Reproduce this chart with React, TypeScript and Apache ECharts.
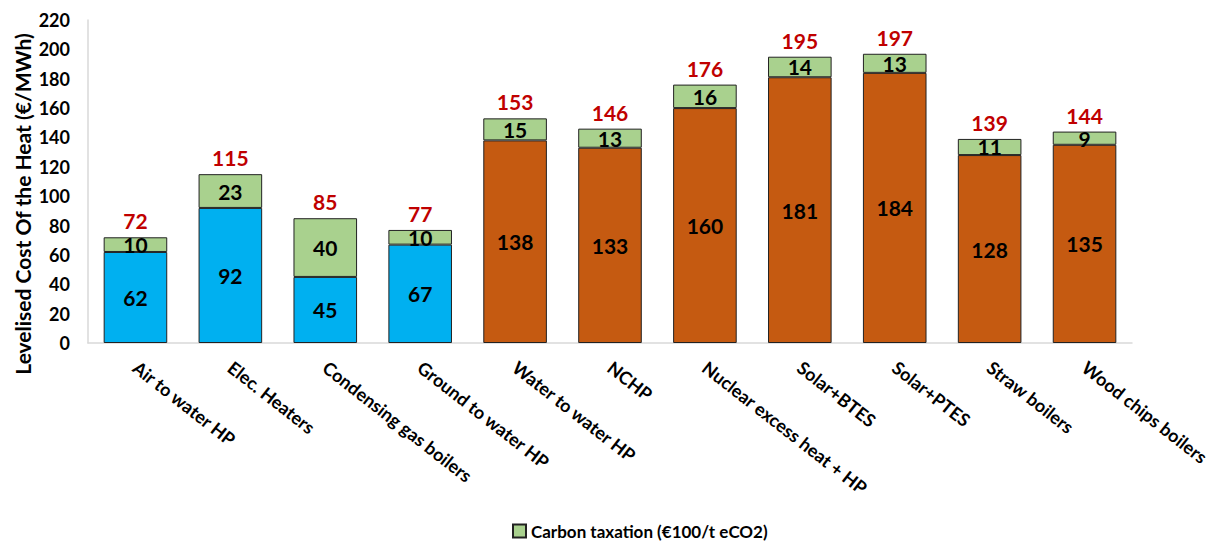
import React, { useEffect, useRef } from "react";
import * as echarts from "echarts";

const categories = [
  "Air to water HP",
  "Elec. Heaters",
  "Condensing gas boilers",
  "Ground to water HP",
  "Water to water HP",
  "NCHP",
  "Nuclear excess heat + HP",
  "Solar+BTES",
  "Solar+PTES",
  "Straw boilers",
  "Wood chips boilers",
];
const baseCost = [62, 92, 45, 67, 138, 133, 160, 181, 184, 128, 135];
const carbonTax = [10, 23, 40, 10, 15, 13, 16, 14, 13, 11, 9];
const totals = [72, 115, 85, 77, 153, 146, 176, 195, 197, 139, 144];
const individualCount = 4; // first bars are individual (blue), rest district (orange)

const BLUE = "#00b0f0";
const ORANGE = "#c55a11";
const GREEN = "#a9d18e";
const RED = "#c00000";
const FONT = "Lato";

export default function App() {
  const ref = useRef<HTMLDivElement>(null);
  useEffect(() => {
    document.body.style.margin = "0";
    const chart = echarts.init(ref.current!, null, { renderer: "svg" });
    chart.setOption({
      animation: false,
      textStyle: { fontFamily: FONT },
      grid: { left: 88, right: 89, top: 20, bottom: 202, containLabel: false },
      legend: {
        data: ["Carbon taxation (€100/t eCO2)"],
        left: 510,
        top: 519,
        padding: 2,
        itemWidth: 13,
        itemHeight: 13,
        itemGap: 6,
        icon: "rect",
        textStyle: { fontFamily: FONT, fontWeight: "bold", fontSize: 17, color: "#000", lineHeight: 20 },
      },
      graphic: [
        {
          type: "text",
          x: 22,
          y: 204,
          rotation: Math.PI / 2,
          style: {
            text: "Levelised Cost Of the Heat (€/MWh)",
            font: `bold 21px ${FONT}`,
            fill: "#000",
            textAlign: "center",
            textVerticalAlign: "middle",
          },
        },
      ],
      xAxis: {
        type: "category",
        data: categories,
        axisLine: { lineStyle: { color: "#d9d9d9", width: 1.5 } },
        axisTick: { show: false },
        axisLabel: {
          rotate: -38,
          interval: 0,
          margin: 22,
          fontFamily: FONT,
          fontWeight: "bold",
          fontSize: 18,
          color: "#000",
        },
      },
      yAxis: {
        type: "value",
        min: 0,
        max: 220,
        interval: 20,
        axisLine: { show: true, lineStyle: { color: "#d9d9d9", width: 1.5 } },
        axisTick: { show: false },
        splitLine: { show: false },
        axisLabel: {
          fontFamily: FONT,
          fontWeight: "bold",
          fontSize: 18,
          color: "#000",
          margin: 18,
        },
      },
      series: [
        {
          name: "Base cost",
          type: "bar",
          stack: "total",
          barWidth: "67%",
          data: baseCost.map((v, i) => ({
            value: v,
            itemStyle: { color: i < individualCount ? BLUE : ORANGE },
          })),
          itemStyle: { borderColor: "#222", borderWidth: 1 },
          label: {
            show: true,
            position: "inside",
            color: "#000",
            fontFamily: FONT,
            fontWeight: "bold",
            fontSize: 21,
          },
        },
        {
          name: "Carbon taxation (€100/t eCO2)",
          type: "bar",
          stack: "total",
          data: carbonTax,
          itemStyle: { color: GREEN, borderColor: "#222", borderWidth: 1 },
          label: {
            show: true,
            position: "inside",
            color: "#000",
            fontFamily: FONT,
            fontWeight: "bold",
            fontSize: 21,
          },
        },
        {
          name: "Total",
          type: "bar",
          stack: "total",
          data: totals.map(() => 0),
          itemStyle: { color: "transparent" },
          label: {
            show: true,
            position: "top",
            distance: 6,
            formatter: (p: any) => String(totals[p.dataIndex]),
            color: RED,
            fontFamily: FONT,
            fontWeight: "bold",
            fontSize: 21,
          },
        },
      ],
    });
    return () => chart.dispose();
  }, []);
  return <div ref={ref} style={{ width: 1221, height: 545 }} />;
}
